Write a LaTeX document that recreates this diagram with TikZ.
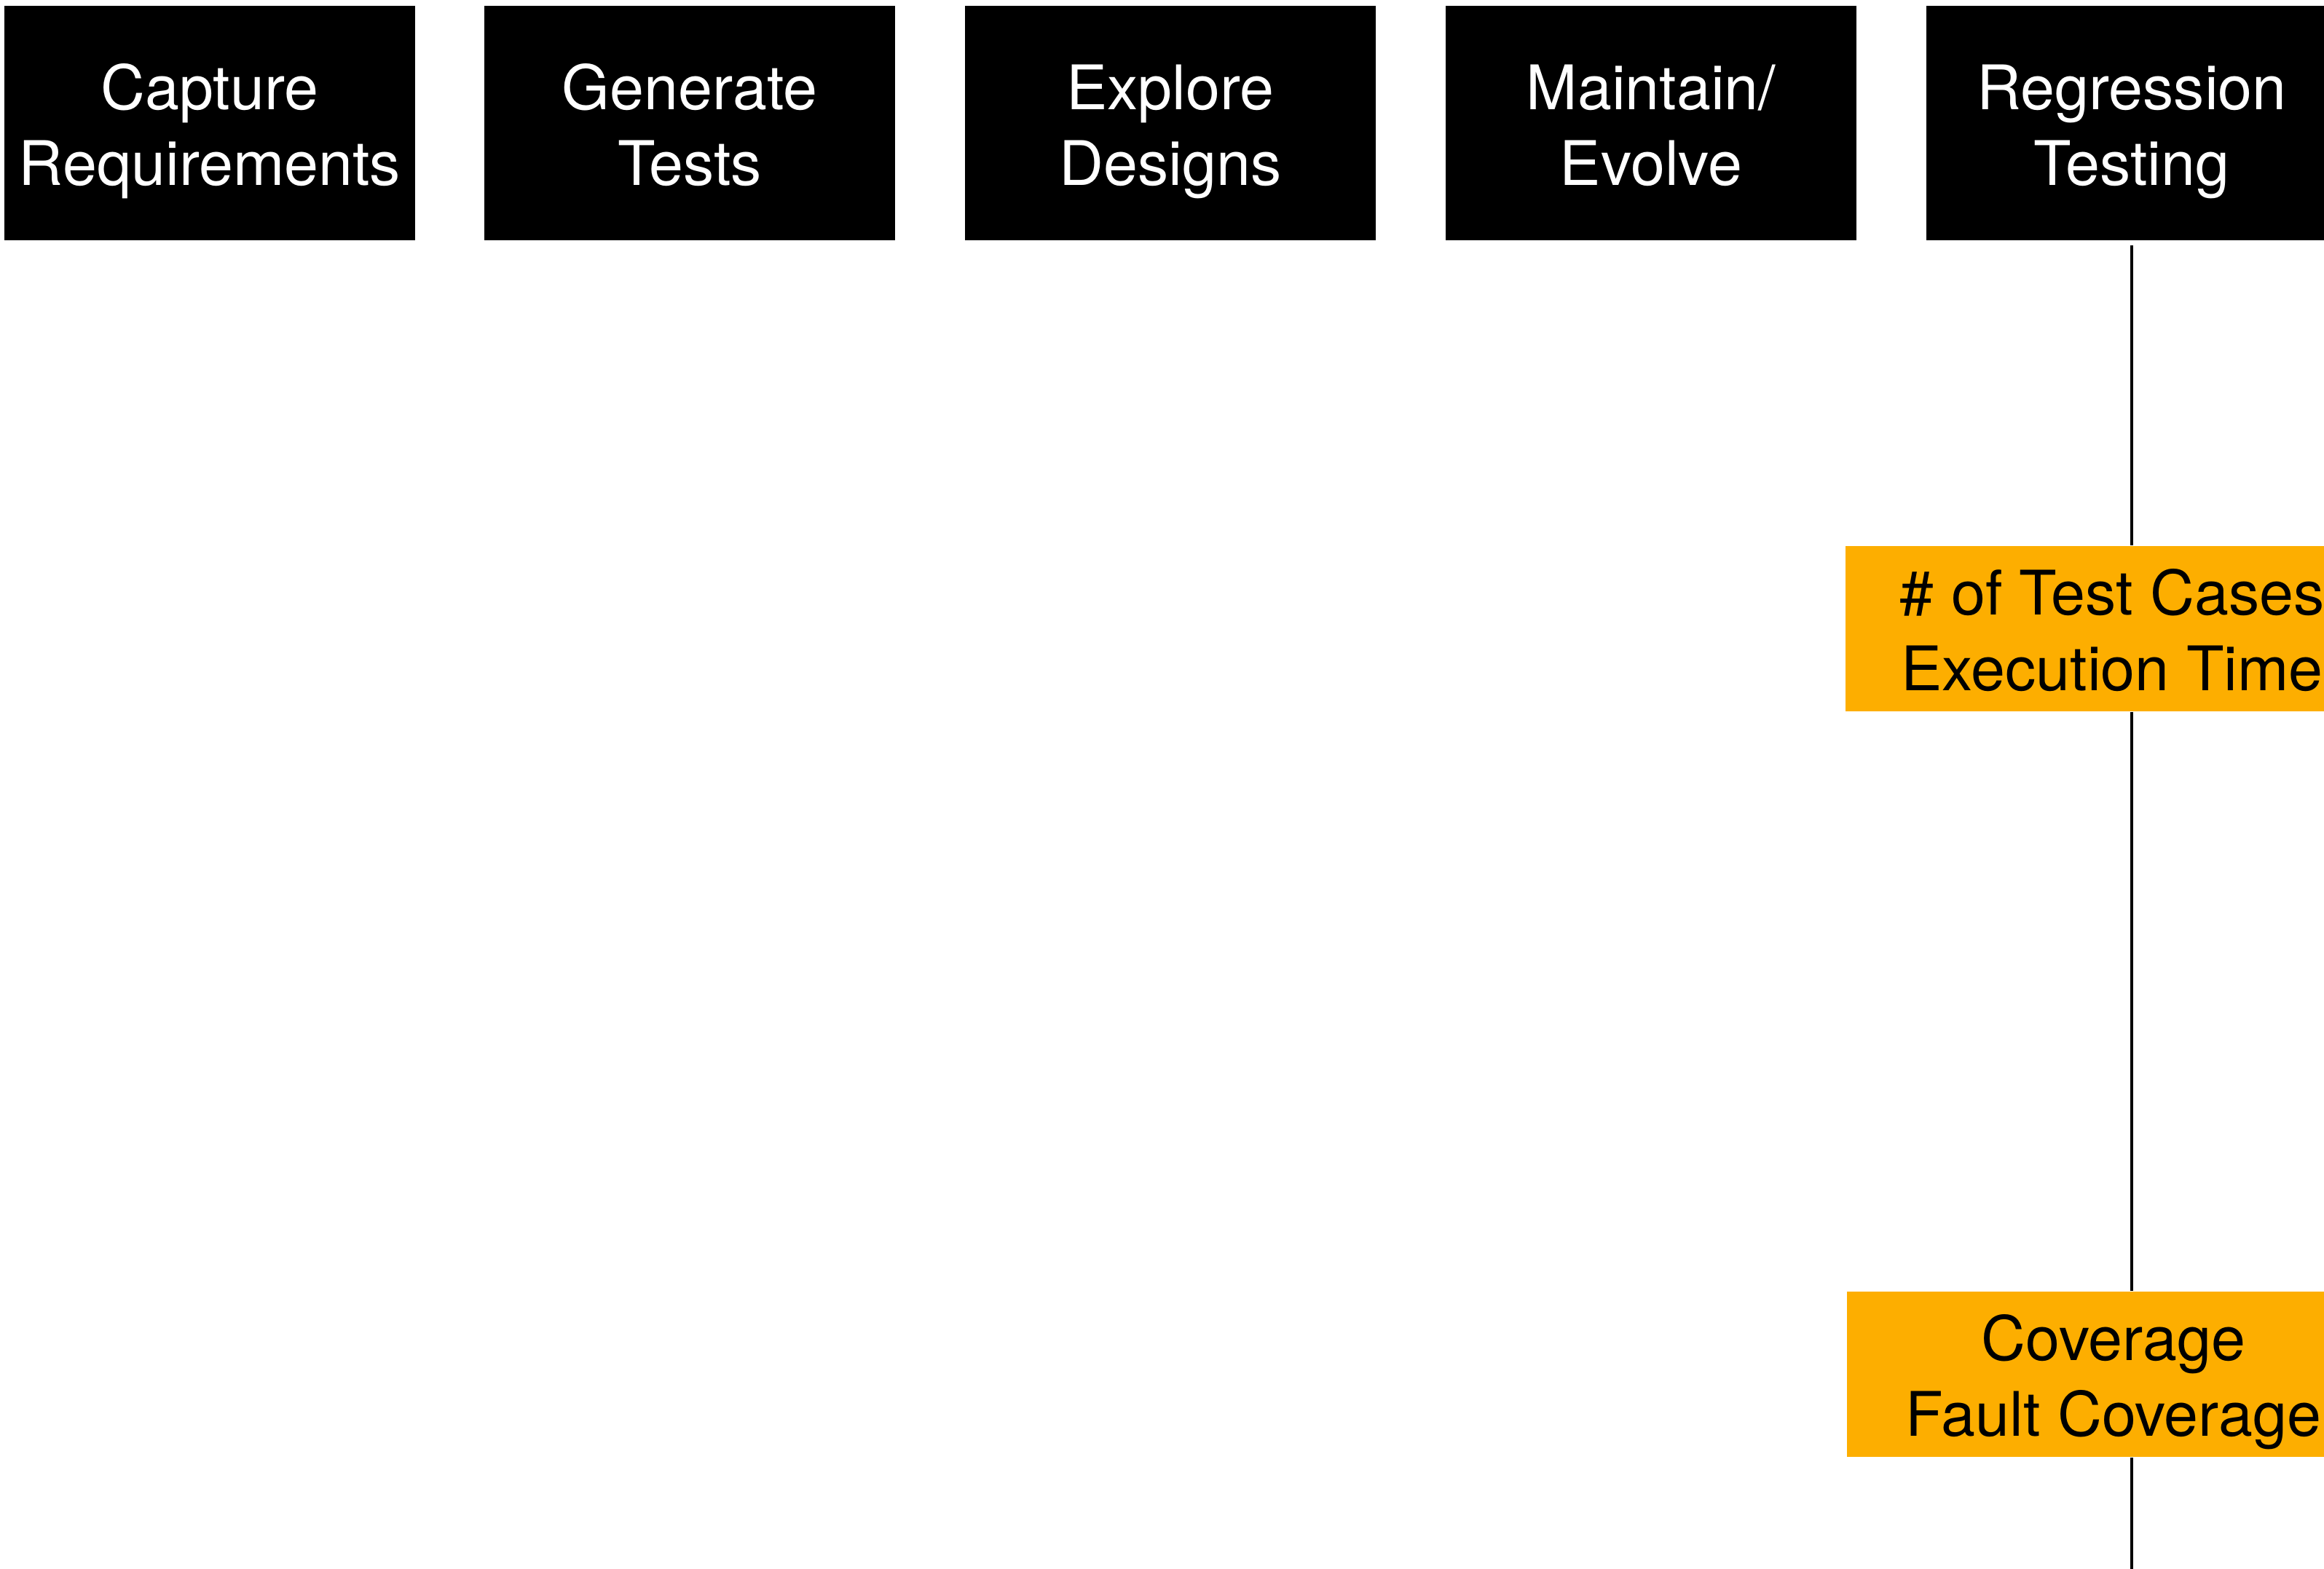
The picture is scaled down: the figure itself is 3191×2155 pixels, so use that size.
\documentclass[tikz,border=0pt]{standalone}
\usepackage{fontspec}
\setmainfont{TeX Gyre Heros}
\definecolor{korange}{RGB}{253,174,0}
\newcommand\mytopst{\rule{0pt}{25pt}}
\newcommand\mybotst{\rule[-6pt]{0pt}{6pt}}
\begin{document}
\begin{tikzpicture}[x=0.01cm,y=-0.01cm,
  stage/.style={fill=black,text=white,minimum width=5.64cm,minimum height=3.22cm,
    inner sep=0pt,align=center,font=\fontsize{24}{29.6}\selectfont},
  metric/.style={fill=korange,text=black,minimum width=7.32cm,minimum height=2.27cm,
    inner sep=0pt,align=center,font=\fontsize{24}{29.6}\selectfont},
  link/.style={line width=1.3pt}]
\useasboundingbox (0,0) rectangle (3191,2155);
\clip (0,0) rectangle (3191,2155);
\node[stage] (cap) at (288,169) {\mytopst Capture\\Requirements\mybotst};
\node[stage] (gen) at (947,169) {\mytopst Generate\\Tests\mybotst};
\node[stage] (exp) at (1607,169) {\mytopst Explore\\Designs\mybotst};
\node[stage] (mai) at (2267,169) {\mytopst Maintain/\\Evolve\mybotst};
\node[stage] (reg) at (2927,169) {\mytopst Regression\\Testing\mybotst};
\node[metric] (tc) at (2900,863.5) {\mytopst\# of Test Cases\\Execution Time\mybotst};
\node[metric] (cov) at (2902,1887.5) {\mytopst Coverage\\Fault Coverage\mybotst};
\coordinate (bottom) at (2926,2155);
\draw[link,shorten <=0.06cm] (reg.south) -- (reg.south |- tc.north);
\draw[link] (tc.south -| reg.south) -- (cov.north -| reg.south);
\draw[link] (cov.south -| reg.south) -- (reg.south |- bottom);
\end{tikzpicture}
\end{document}
